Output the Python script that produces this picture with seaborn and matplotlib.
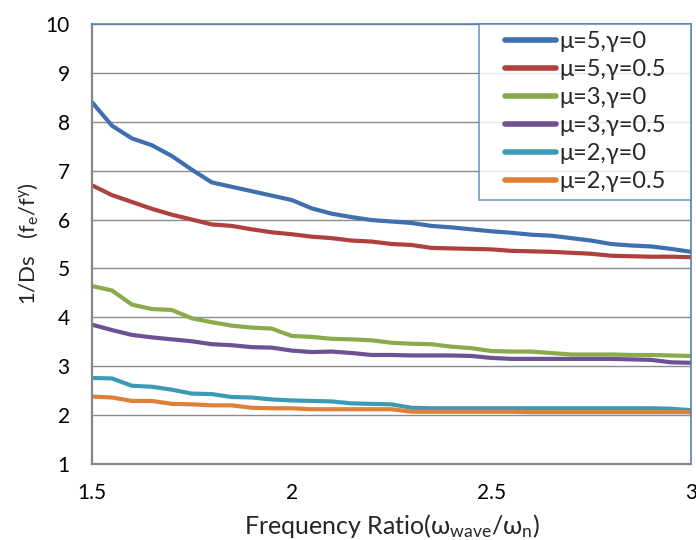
import numpy as np
import pandas as pd
import seaborn as sns
import matplotlib.pyplot as plt
from matplotlib.legend_handler import HandlerLine2D
from matplotlib.lines import Line2D

# Frequency ratio grid
freq_ratio = [1.50, 1.55, 1.60, 1.65, 1.70, 1.75, 1.80, 1.85, 1.90, 1.95,
              2.00, 2.05, 2.10, 2.15, 2.20, 2.25, 2.30, 2.35, 2.40, 2.45,
              2.50, 2.55, 2.60, 2.65, 2.70, 2.75, 2.80, 2.85, 2.90, 2.95, 3.00]

mu5_g0 = [8.40, 7.92, 7.66, 7.52, 7.30, 7.02, 6.76, 6.67, 6.58, 6.49,
          6.40, 6.23, 6.12, 6.05, 5.99, 5.96, 5.93, 5.87, 5.84, 5.80,
          5.76, 5.73, 5.69, 5.67, 5.62, 5.57, 5.50, 5.47, 5.45, 5.40, 5.34]
mu5_g05 = [6.70, 6.50, 6.36, 6.22, 6.10, 6.00, 5.90, 5.87, 5.80, 5.74,
           5.70, 5.65, 5.62, 5.57, 5.55, 5.50, 5.48, 5.42, 5.41, 5.40,
           5.39, 5.36, 5.35, 5.34, 5.32, 5.30, 5.26, 5.25, 5.24, 5.24, 5.23]
mu3_g0 = [4.64, 4.55, 4.26, 4.17, 4.15, 3.98, 3.90, 3.83, 3.79, 3.77,
          3.62, 3.60, 3.56, 3.55, 3.53, 3.48, 3.46, 3.45, 3.40, 3.37,
          3.31, 3.30, 3.30, 3.27, 3.24, 3.24, 3.24, 3.23, 3.23, 3.22, 3.21]
mu3_g05 = [3.85, 3.74, 3.64, 3.59, 3.55, 3.51, 3.45, 3.43, 3.39, 3.38,
           3.32, 3.29, 3.30, 3.27, 3.23, 3.23, 3.22, 3.22, 3.22, 3.21,
           3.17, 3.15, 3.15, 3.15, 3.15, 3.15, 3.15, 3.14, 3.13, 3.08, 3.07]
mu2_g0 = [2.76, 2.75, 2.60, 2.58, 2.52, 2.44, 2.43, 2.37, 2.36, 2.32,
          2.30, 2.29, 2.28, 2.24, 2.23, 2.22, 2.15, 2.14, 2.14, 2.14,
          2.14, 2.14, 2.14, 2.14, 2.14, 2.14, 2.14, 2.14, 2.14, 2.13, 2.10]
mu2_g05 = [2.38, 2.36, 2.29, 2.29, 2.23, 2.22, 2.20, 2.20, 2.15, 2.14,
           2.14, 2.12, 2.12, 2.12, 2.12, 2.12, 2.07, 2.07, 2.07, 2.07,
           2.07, 2.07, 2.06, 2.06, 2.06, 2.06, 2.06, 2.06, 2.06, 2.06, 2.06]

series_labels = ["μ=5,γ=0", "μ=5,γ=0.5", "μ=3,γ=0",
                 "μ=3,γ=0.5", "μ=2,γ=0", "μ=2,γ=0.5"]
series_values = [mu5_g0, mu5_g05, mu3_g0, mu3_g05, mu2_g0, mu2_g05]
colors = ["#3f6fae", "#b0403e", "#8aab4b", "#6d5192", "#3b9bb5", "#e07f36"]

x_ticks = [1.5, 2, 2.5, 3]
x_tick_labels = ["1.5", "2", "2.5", "3"]
y_ticks = list(range(1, 11))

df = pd.concat(
    [pd.DataFrame({"ratio": freq_ratio, "value": v, "case": lab})
     for lab, v in zip(series_labels, series_values)],
    ignore_index=True)

sns.set_theme(style="white")
plt.rcParams["font.family"] = ["Lato", "DejaVu Sans"]
plt.rcParams["mathtext.fontset"] = "custom"
plt.rcParams["mathtext.rm"] = "Lato"
plt.rcParams["mathtext.it"] = "Lato"

fig = plt.figure(figsize=(6.96, 5.40), dpi=100)
ax = fig.add_axes([92 / 696, 1 - 464 / 540, 599 / 696, 440 / 540])

sns.lineplot(data=df, x="ratio", y="value", hue="case",
             hue_order=series_labels, palette=colors, linewidth=3.0,
             ax=ax, legend=True)

ax.set_xlim(1.5, 3)
ax.set_ylim(1, 10)
ax.set_xticks(x_ticks)
ax.set_xticklabels(x_tick_labels)
ax.set_yticks(y_ticks)
ax.yaxis.grid(True, color="#8c8c8c", linewidth=1.0)
ax.set_axisbelow(True)

for side in ("left", "bottom"):
    ax.spines[side].set_color("#868686")
    ax.spines[side].set_linewidth(1.6)
for side in ("top", "right"):
    ax.spines[side].set_color("#4f81bd")
    ax.spines[side].set_linewidth(1.2)

ax.tick_params(axis="both", labelsize=15, colors="black")
ax.tick_params(axis="x", direction="in", length=5, width=1, color="#868686", pad=14)
ax.tick_params(axis="y", direction="out", length=2, width=1, color="#868686", pad=14)

ax.set_xlabel(r"Frequency Ratio(ω$_\mathregular{wave}$/ω$_\mathregular{n}$)",
              fontsize=18, labelpad=6)
ax.set_ylabel(r"1/Ds   (f$_\mathregular{e}$/f$^\mathregular{y}$)",
              fontsize=16, labelpad=4)

handles, labels = ax.get_legend_handles_labels()
leg = ax.legend(handles, labels, loc="upper right",
                bbox_to_anchor=(0.646, 0.0, 0.354, 1.0), mode="expand",
                fontsize=17, frameon=True,
                fancybox=False, edgecolor="#4f81bd", handlelength=2.95,
                handletextpad=0.15, labelspacing=0.3, borderpad=0.3,
                borderaxespad=0.0,
                handler_map={Line2D: HandlerLine2D(xpad=0.8)})
leg.get_frame().set_linewidth(1.2)
for line in leg.get_lines():
    line.set_linewidth(4)

fig.savefig("out.png", dpi=100)
